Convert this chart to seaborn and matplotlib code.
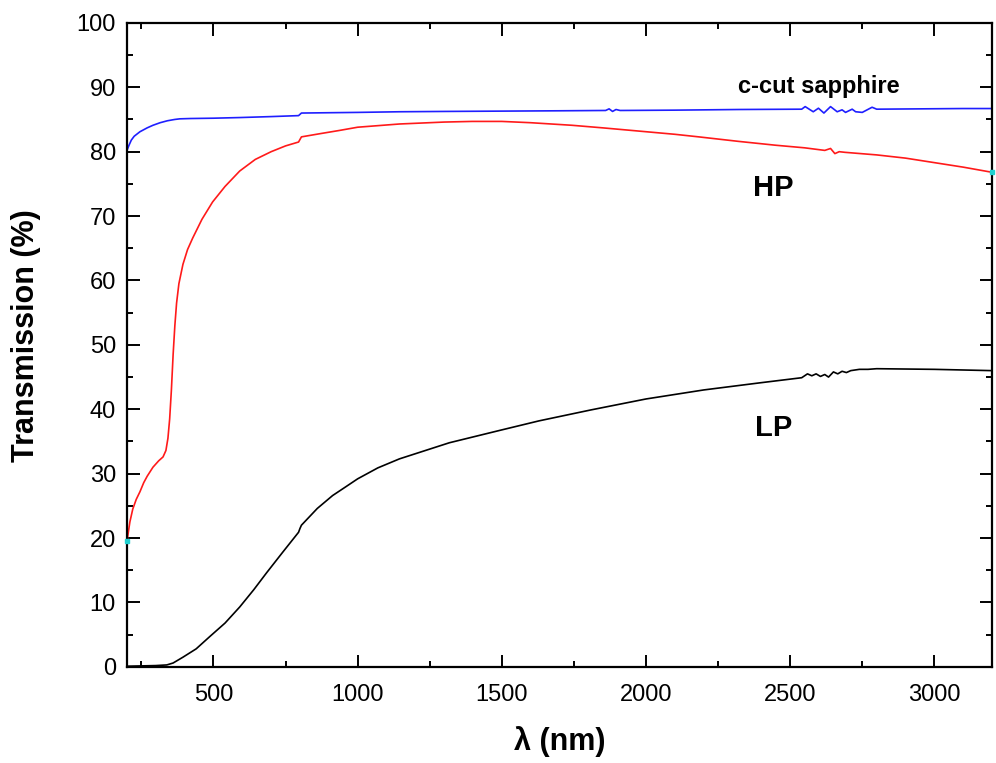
import matplotlib
matplotlib.use("Agg")
import matplotlib.pyplot as plt
import seaborn as sns
import pandas as pd
from matplotlib.ticker import MultipleLocator

# ---------------- data ----------------
sapphire_x = [200, 207, 215, 225, 245, 270, 290, 315, 340, 365, 383, 420, 500, 591, 700,
              795, 800, 805, 900, 1000, 1145, 1300, 1500, 1700, 1860, 1872, 1884, 1896,
              1910, 2100, 2321, 2540, 2552, 2580, 2598, 2617, 2640, 2663, 2680, 2692,
              2715, 2727, 2750, 2767, 2784, 2800, 2950, 3100, 3200]
sapphire_y = [80.2, 81.0, 81.8, 82.4, 83.1, 83.7, 84.1, 84.5, 84.8, 85.0, 85.1, 85.15, 85.2,
              85.3, 85.45, 85.6, 85.8, 86.0, 86.05, 86.1, 86.2, 86.25, 86.3, 86.35, 86.4,
              86.65, 86.25, 86.55, 86.4, 86.45, 86.55, 86.6, 87.0, 86.2, 86.75, 86.0, 87.0,
              86.2, 86.5, 86.1, 86.6, 86.2, 86.1, 86.5, 86.9, 86.6, 86.65, 86.7, 86.7]

hp_x = [200, 210, 220, 232, 245, 258, 270, 290, 310, 325, 335, 342, 348, 354, 360, 366,
        372, 380, 394, 410, 428, 460, 497, 540, 591, 645, 700, 750, 795, 800, 805, 870,
        937, 1000, 1145, 1300, 1397, 1500, 1600, 1743, 1850, 1975, 2100, 2183, 2321,
        2450, 2550, 2620, 2640, 2655, 2670, 2690, 2800, 2900, 3000, 3100, 3200]
hp_y = [19.5, 22.5, 24.5, 26.0, 27.2, 28.6, 29.6, 31.0, 32.0, 32.6, 33.6, 35.5, 38.5,
        43.0, 48.5, 53.0, 56.5, 59.5, 62.5, 64.8, 66.6, 69.5, 72.2, 74.6, 77.0, 78.8,
        80.0, 80.9, 81.5, 81.9, 82.3, 82.8, 83.3, 83.8, 84.3, 84.6, 84.7, 84.7, 84.5,
        84.1, 83.7, 83.2, 82.7, 82.3, 81.6, 81.0, 80.6, 80.2, 80.5, 79.7, 80.0, 79.9,
        79.5, 79.0, 78.3, 77.6, 76.8]

lp_x = [200, 250, 300, 338, 360, 394, 440, 487, 540, 591, 640, 684, 740, 795, 800, 805,
        860, 913, 960, 1000, 1070, 1145, 1228, 1318, 1500, 1629, 1809, 2000, 2200, 2394,
        2540, 2560, 2575, 2590, 2605, 2620, 2633, 2650, 2665, 2680, 2695, 2710, 2740,
        2770, 2800, 3000, 3200]
lp_y = [0.1, 0.15, 0.2, 0.3, 0.6, 1.5, 2.8, 4.7, 6.8, 9.3, 12.0, 14.6, 17.8, 20.9, 21.5,
        22.0, 24.6, 26.6, 28.0, 29.2, 30.9, 32.3, 33.5, 34.8, 36.8, 38.2, 39.9, 41.6,
        43.0, 44.1, 44.9, 45.5, 45.2, 45.5, 45.1, 45.4, 45.0, 45.8, 45.5, 45.9, 45.7,
        46.0, 46.2, 46.2, 46.3, 46.2, 46.0]

series_names = ["c-cut sapphire", "HP", "LP"]
series_colors = ["#1f1fff", "#ff1a1a", "#000000"]
label_x = [2598, 2440, 2442]
label_y = [90.1, 74.4, 37.1]
label_sizes = [17, 21, 21]

x_ticks = [500, 1000, 1500, 2000, 2500, 3000]
y_ticks = [0, 10, 20, 30, 40, 50, 60, 70, 80, 90, 100]

# ---------------- figure ----------------
sns.set_theme(style="ticks")
plt.rcParams["font.family"] = ["Liberation Sans", "DejaVu Sans"]
plt.rcParams["text.color"] = "black"
plt.rcParams["axes.labelcolor"] = "black"

fig = plt.figure(figsize=(9.96, 7.63), dpi=100)
ax = fig.add_axes([0.1275, 0.126, 0.8685, 0.844])

frames = [
    pd.DataFrame({"wavelength": sapphire_x, "T": sapphire_y, "sample": series_names[0]}),
    pd.DataFrame({"wavelength": hp_x, "T": hp_y, "sample": series_names[1]}),
    pd.DataFrame({"wavelength": lp_x, "T": lp_y, "sample": series_names[2]}),
]
for df, col in zip(frames, series_colors):
    sns.lineplot(data=df, x="wavelength", y="T", ax=ax, color=col, lw=1.2,
                 estimator=None, sort=False, legend=False)

# tiny cyan end marks on HP curve (as in reference)
ax.plot([hp_x[0]], [hp_y[0]], marker="s", ms=2.5, color="#20d0d0", clip_on=False, zorder=5)
ax.plot([hp_x[-1]], [hp_y[-1]], marker="s", ms=2.5, color="#20d0d0", clip_on=False, zorder=5)

for name, lx, ly, fs in zip(series_names, label_x, label_y, label_sizes):
    ax.text(lx, ly, name, ha="center", va="center", fontsize=fs, fontweight="bold",
            color="black")

ax.set_xlim(200, 3200)
ax.set_ylim(0, 100)
ax.set_xticks(x_ticks)
ax.set_yticks(y_ticks)
ax.xaxis.set_minor_locator(MultipleLocator(250))
ax.yaxis.set_minor_locator(MultipleLocator(5))

for s in ax.spines.values():
    s.set_visible(True)
    s.set_linewidth(1.6)
    s.set_color("black")

ax.tick_params(which="both", direction="in", top=True, right=True, width=1.4,
               colors="black", labelsize=17, labelcolor="black")
ax.tick_params(which="major", length=9)
ax.tick_params(which="minor", length=4.5)
ax.tick_params(axis="y", which="major", pad=8)
ax.tick_params(axis="x", which="major", pad=12.5)

ax.set_xlabel("λ (nm)", fontsize=22, fontweight="bold", labelpad=14)
ax.set_ylabel("Transmission (%)", fontsize=22, fontweight="bold")
ax.yaxis.set_label_coords(-0.099, 0.515)

fig.savefig("out.png", dpi=100)
